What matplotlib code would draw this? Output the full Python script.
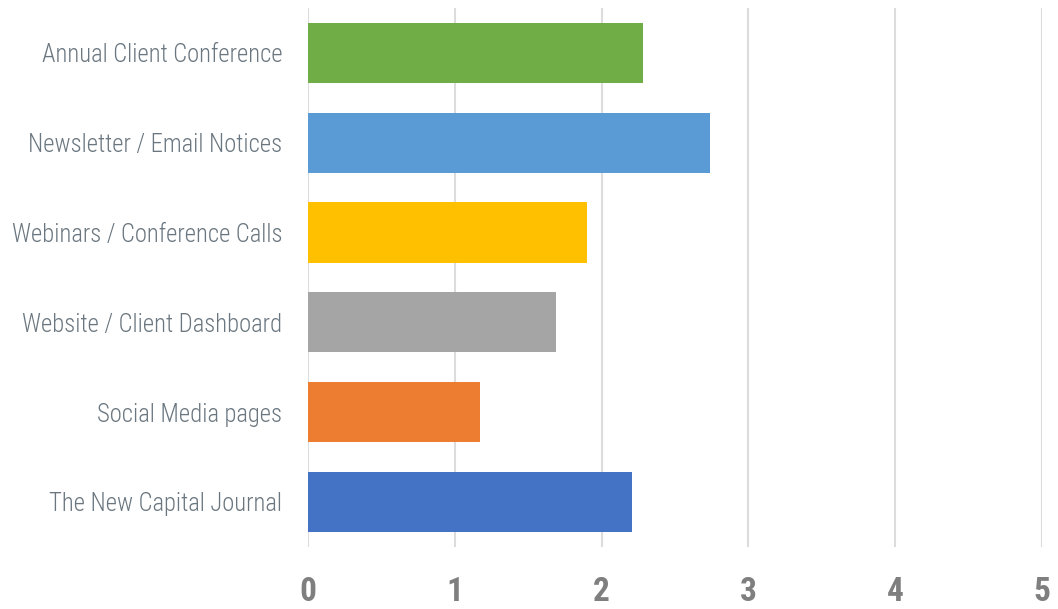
import matplotlib.pyplot as plt
from matplotlib import font_manager

categories = [
    "The New Capital Journal",
    "Social Media pages",
    "Website / Client Dashboard",
    "Webinars / Conference Calls",
    "Newsletter / Email Notices",
    "Annual Client Conference",
]
values = [2.21, 1.17, 1.69, 1.90, 2.74, 2.28]
colors = ["#4472C4", "#ED7D31", "#A5A5A5", "#FFC000", "#5B9BD5", "#70AD47"]
xticks = [0, 1, 2, 3, 4, 5]

names = {f.name for f in font_manager.fontManager.ttflist}
narrow = "Roboto"
for cand in ["Roboto Condensed", "Archivo Narrow", "Asap Condensed", "Liberation Sans Narrow"]:
    if cand in names:
        narrow = cand
        break

fig = plt.figure(figsize=(10.58, 6.09), dpi=100)
ax = fig.add_axes([0.291, 0.102, 0.694, 0.885])

ax.barh(range(len(categories)), values, height=0.67, color=colors, zorder=3)

ax.set_xlim(0, 5)
ax.set_ylim(-0.5, 5.5)
ax.set_xticks(xticks)
ax.set_xticklabels([str(t) for t in xticks], fontfamily=narrow, fontweight="bold",
                   fontsize=24, color="#7f7f7f")
ax.set_yticks(range(len(categories)))
ax.set_yticklabels(categories, fontfamily=narrow, fontweight="light", fontsize=17.7,
                   color="#6b7780")
ax.tick_params(axis="x", length=0, pad=21)
ax.tick_params(axis="y", length=0, pad=18.5)

ax.grid(axis="x", color="#dcdcdc", linewidth=1.5, zorder=0)
for s in ax.spines.values():
    s.set_visible(False)

fig.savefig("out.png", dpi=100)
